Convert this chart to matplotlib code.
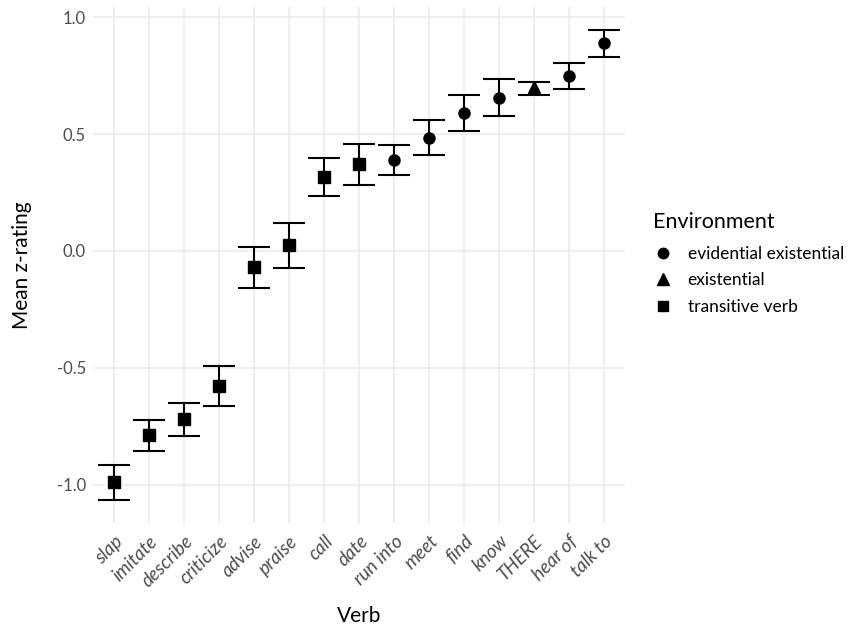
import matplotlib
matplotlib.use("Agg")
import matplotlib.pyplot as plt
from matplotlib.lines import Line2D

plt.rcParams['font.family'] = ['Lato', 'DejaVu Sans']

verbs = ["slap", "imitate", "describe", "criticize", "advise", "praise", "call",
         "date", "run into", "meet", "find", "know", "THERE", "hear of", "talk to"]
environment = ["transitive verb"] * 8 + ["evidential existential"] * 4 + \
    ["existential"] + ["evidential existential"] * 2
mean_z = [-0.987, -0.786, -0.718, -0.577, -0.068, 0.026, 0.316, 0.372,
          0.389, 0.483, 0.590, 0.654, 0.700, 0.748, 0.889]
ci_low = [-1.064, -0.855, -0.790, -0.662, -0.158, -0.073, 0.235, 0.282,
          0.325, 0.410, 0.513, 0.577, 0.668, 0.692, 0.829]
ci_high = [-0.915, -0.722, -0.650, -0.491, 0.017, 0.120, 0.397, 0.457,
           0.453, 0.560, 0.667, 0.735, 0.725, 0.803, 0.944]

env_order = ["evidential existential", "existential", "transitive verb"]
env_marker = {"evidential existential": "o", "existential": "^", "transitive verb": "s"}
env_size = {"evidential existential": 8, "existential": 9, "transitive verb": 8}

fig = plt.figure(figsize=(8.51, 6.30), dpi=100)
ax = fig.add_axes([93 / 851, 1 - 523 / 630, (625 - 93) / 851, (523 - 7) / 630])

x = list(range(len(verbs)))
for i in x:
    ax.vlines(i, ci_low[i], ci_high[i], color="black", lw=1.5, zorder=3)
    ax.hlines([ci_low[i], ci_high[i]], i - 0.45, i + 0.45, color="black", lw=1.5, zorder=3)
    env = environment[i]
    ax.plot(i, mean_z[i], marker=env_marker[env], ms=env_size[env], color="black",
            ls="none", zorder=4)

ax.set_xlim(-0.6, len(verbs) - 0.4)
ax.set_ylim(-1.164, 1.044)
ax.set_xticks(x)
ax.set_xticklabels(verbs, rotation=45, ha="right", rotation_mode="anchor",
                   fontsize=13.5, style="italic", color="#4d4d4d")
ax.set_yticks([-1.0, -0.5, 0.0, 0.5, 1.0])
ax.set_yticklabels(["-1.0", "-0.5", "0.0", "0.5", "1.0"], fontsize=12, color="#4d4d4d")
ax.tick_params(length=0, pad=5)
ax.tick_params(axis="x", pad=7)
ax.grid(True, color="#ebebeb", lw=1.1)
ax.set_axisbelow(True)
for s in ax.spines.values():
    s.set_visible(False)

ax.set_xlabel("Verb", fontsize=15, labelpad=11)
ax.set_ylabel("Mean z-rating", fontsize=15, labelpad=18)

handles = [Line2D([], [], marker=env_marker[e], ms=env_size[e] - 0.5, color="black", ls="none")
           for e in env_order]
leg = fig.legend(handles, env_order, title="Environment", loc="upper left",
                 bbox_to_anchor=(646 / 851, 1 - 205 / 630), frameon=False,
                 fontsize=12.5, title_fontsize=15.5, handletextpad=0.8,
                 labelspacing=0.6, handlelength=1.2, borderaxespad=0)
leg._legend_box.align = "left"
leg._legend_box.sep = 10

fig.savefig("out.png", dpi=100)
